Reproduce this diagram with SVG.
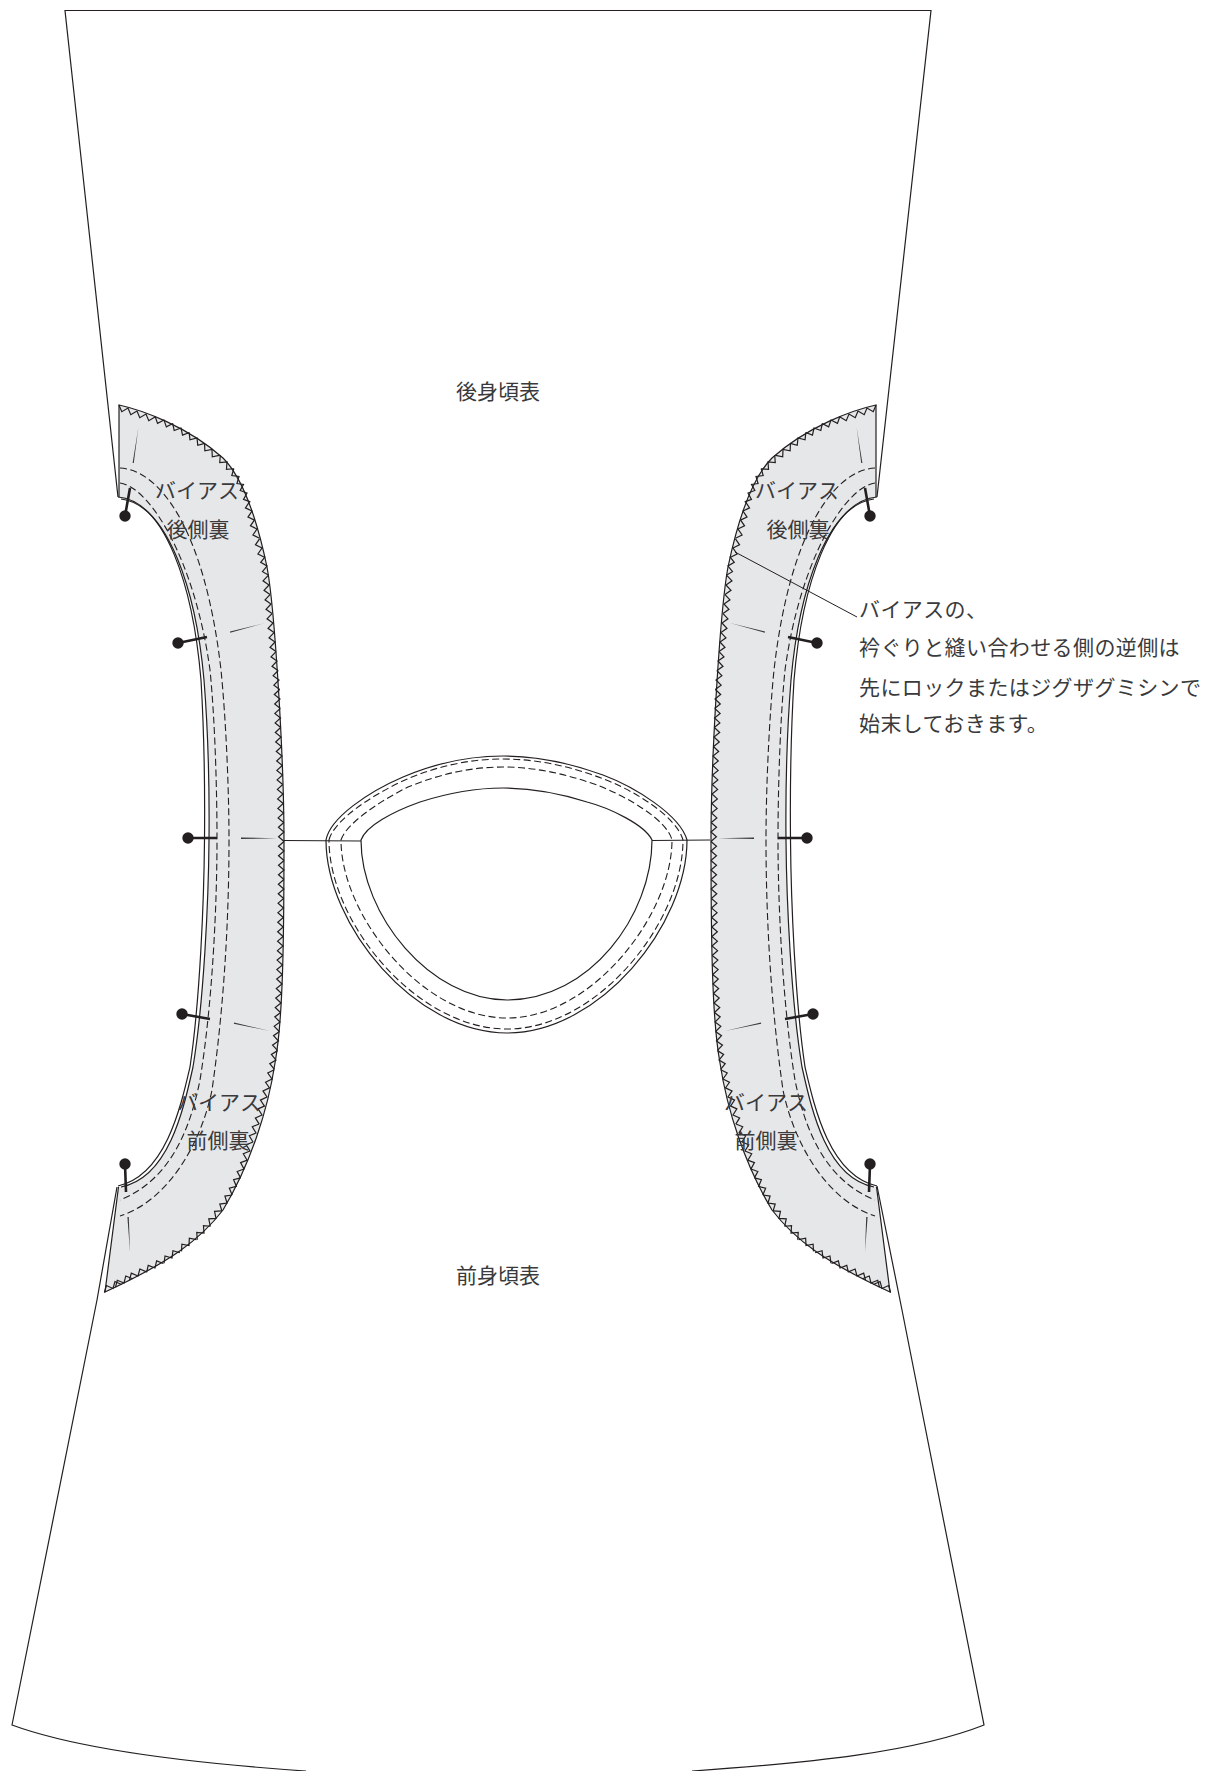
<svg xmlns="http://www.w3.org/2000/svg" xmlns:xlink="http://www.w3.org/1999/xlink" width="1205" height="1771" viewBox="0 0 1205 1771">
<style>
.ln{fill:none;stroke:#231f20;stroke-width:1.2}
.thin{fill:none;stroke:#231f20;stroke-width:1}
.dash{fill:none;stroke:#231f20;stroke-width:1.1;stroke-dasharray:7 3.5}
.band{fill:#e6e7e8;stroke:none}
.pin{stroke:#231f20;stroke-width:2.6;fill:none}
.head{fill:#231f20}
.tick{fill:#3a3a3c}
.zig{fill:none;stroke:none;marker-mid:url(#teeth)}
text{font-family:"Noto Sans CJK JP","Liberation Sans",sans-serif;font-size:21px;font-weight:400;fill:#3a3a3c}
.c{text-anchor:middle}
.note{letter-spacing:.4px}
</style>
<defs>
<marker id="teeth" markerUnits="userSpaceOnUse" orient="auto" markerWidth="24" markerHeight="12" viewBox="-12 -2 24 12" refX="0" refY="0" overflow="visible">
<path d="M-9.500 0L-4.750 5.500L0 0L4.750 5.500L9.500 0" fill="none" stroke="#231f20" stroke-width="1.200"/>
</marker>
<g id="bandShape">
<path class="band" d="M119 405C142 410 187 426 223 458C241 476 255 510 267 567C275 610 284 760 284 840C284 940 283 1020 275 1063C268 1110 250 1165 223 1210C200 1240 170 1262 105 1292L118.500 1187C168 1178 183 1112 193 1067C204 1000 208.500 900 209 840C209.500 790 208 730 204 680C196 590 168 505 120 498L119 497Z"/>
<polyline class="zig" points="119,405 128,408 146,414 164,420 181,428 197,438 212,449.500 227,462 239,476.500 247,493 252,511 257,529 262,548 267,566 269,585 271,604 273,623 275,642 277,661 279,680 280,699 280.500,718 281,737 282,756 282.500,775 283,794 283.500,813 284,832 284,851 284,870 283.800,889 283.500,908 283.200,927 283,946 282.500,965 282,984 281,1003 280,1022 278.500,1041 276,1060 272,1079 267,1097 262,1115 256,1133 250,1151 244,1169 236.400,1186.400 227,1203 216,1218.400 204,1233 189,1245.500 172,1258 155,1268 138,1276 124,1283 113,1288.500 105,1292"/>
<path class="ln" d="M119 497V405C142 410 187 426 223 458C241 476 255 510 267 567C275 610 284 760 284 840C284 940 283 1020 275 1063C268 1110 250 1165 223 1210C200 1240 170 1262 105 1292L118.500 1187"/>
<path class="ln" d="M121 499C168 505 196 590 204 680C208 730 209.500 790 209 840C208.500 900 204 1000 193 1067C183 1112 168 1178 121 1187"/>
<path class="ln" d="M118 497C165 501 193 585 201 680C204 730 205 790 204.500 840C204 900 200 1000 190 1067C180 1110 165 1175 118 1186"/>
<path class="dash" d="M120 483C150 487 195 560 210 670C215 720 217 790 217 840C217 900 213 1000 200 1080C190 1130 170 1180 120 1200"/>
<path class="dash" d="M120 468C160 470 205 530 221 670C226 720 229 790 229 840C229 910 225 1000 212 1090C202 1140 170 1200 120 1216"/>
<polygon class="tick" points="138.300,428 133.800,463 132.600,463"/>
<polygon class="tick" points="265,623 230.200,632.800 230,631.400"/>
<polygon class="tick" points="277,838.300 241,837.500 241,839"/>
<polygon class="tick" points="270,1031 234,1022.400 233.800,1023.800"/>
<polygon class="tick" points="130,1252 127.400,1217 128.800,1217"/>
<path class="pin" d="M125 516L130 488M178 643L207 637M188 838H217M182 1014L210 1019M125 1164L126 1192"/>
<circle class="head" cx="125" cy="516" r="5.700"/>
<circle class="head" cx="178" cy="643" r="5.700"/>
<circle class="head" cx="188" cy="838" r="5.700"/>
<circle class="head" cx="182" cy="1014" r="5.700"/>
<circle class="head" cx="125" cy="1164" r="5.700"/>
</g>
</defs>
<rect width="1205" height="1771" fill="#fff"/>
<g id="back-body">
<path class="ln" d="M118 497L65 10.500H931L877 497"/>
<text class="c" x="498" y="399">後身頃表</text>
</g>
<g id="front-body">
<path class="ln" d="M117 1187L97 1300L12 1725C80 1750 190 1763 306 1771M877 1186L902 1310L984 1725C916 1752 810 1763 692 1771"/>
<text class="c" x="498" y="1283">前身頃表</text>
</g>
<g id="band-left">
<use href="#bandShape" xlink:href="#bandShape"/>
<text class="c" x="197" y="498">バイアス</text>
<text class="c" x="198" y="537">後側裏</text>
<text class="c" x="219" y="1110">バイアス</text>
<text class="c" x="218" y="1148">前側裏</text>
</g>
<g id="band-right">
<use href="#bandShape" xlink:href="#bandShape" transform="matrix(-1 0 0 1 995 0)"/>
<text class="c" x="797" y="498">バイアス</text>
<text class="c" x="798" y="537">後側裏</text>
<text class="c" x="766" y="1110">バイアス</text>
<text class="c" x="766" y="1148">前側裏</text>
</g>
<g id="neckline">
<path class="ln" d="M326 840C330 818 368 792 403 777C436 763 470 756 503 756C537 756 570 763 603 775C635 787 680 815 687 840C687 925 600 1033 507 1033C415 1033 326 925 326 840Z"/>
<path class="ln" d="M361 840C366 826 392 812 420 802C448 793 475 788 503 788C531 788 559 793 587 802C610 808 645 825 652 840C652 915 590 1000 507 1000C430 1000 361 915 361 840Z"/>
<path class="dash" d="M329 840C334 820 372 795 405 780C437 766 470 759 503 759C536 759 569 766 601 778C634 790 677 817 683 840C683 922 598 1029 507 1029C416 1029 329 922 329 840Z"/>
<path class="dash" d="M341 840C346 824 378 802 408 787C440 774 471 767 503 767C535 767 566 774 597 785C628 797 667 820 672 840C672 915 592 1018 507 1018C422 1018 341 915 341 840Z"/>
<path class="ln" d="M284 840.500L361 841M652 840.500L710 840"/>
</g>
<g id="callout">
<path class="thin" d="M735 552L857 617"/>
<text class="note" x="859" y="617">バイアスの、</text>
<text class="note" x="859" y="655">衿ぐりと縫い合わせる側の逆側は</text>
<text class="note" x="859" y="695">先にロックまたはジグザグミシンで</text>
<text class="note" x="859" y="731">始末しておきます。</text>
</g>
</svg>
